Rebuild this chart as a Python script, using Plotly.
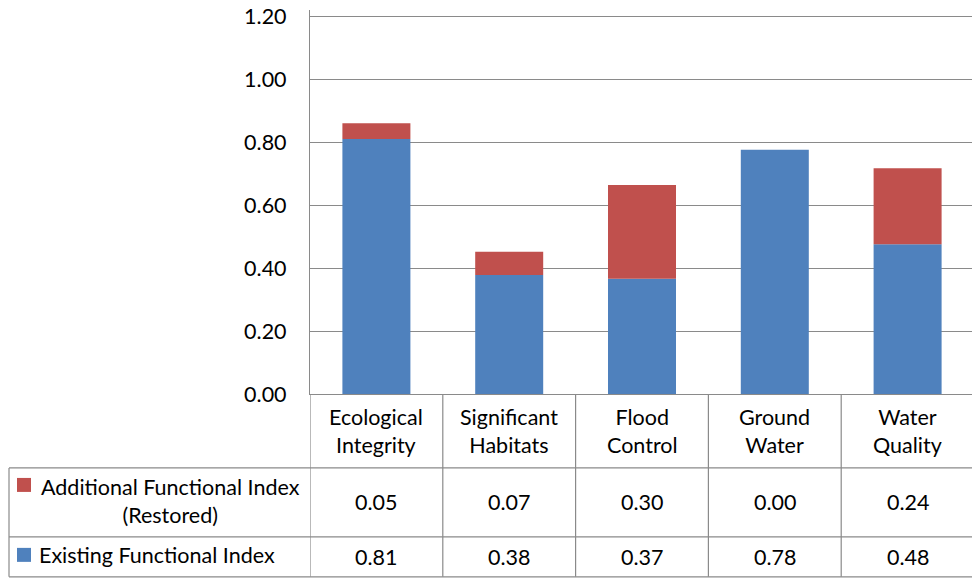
import plotly.graph_objects as go

categories = ["Ecological<br>Integrity", "Significant<br>Habitats", "Flood<br>Control", "Ground<br>Water", "Water<br>Quality"]
existing = [0.81, 0.378, 0.366, 0.776, 0.476]
additional = [0.05, 0.074, 0.298, 0.0, 0.241]
series_names = ["Additional Functional Index<br>(Restored)", "Existing Functional Index"]
y_ticks = [0.0, 0.2, 0.4, 0.6, 0.8, 1.0, 1.2]
y_tick_labels = ["0.00", "0.20", "0.40", "0.60", "0.80", "1.00", "1.20"]
blue = "#4F81BD"
red = "#C0504D"
grid = "#8a8a8a"
FONT = "Lato"
FS = 21.5

# page body has an 8px margin; work in reference pixel coords and subtract it
OFF = 8
W, H = 980 - OFF, 586 - OFF
Y_TOP = 1.22
PX_PER_UNIT = (394 - 16) / 1.2
PLOT_L, PLOT_R, PLOT_B = 310, 974, 394  # reference px
PLOT_T = PLOT_B - Y_TOP * PX_PER_UNIT
L = PLOT_L - OFF
R = W - (PLOT_R - OFF)
T = PLOT_T - OFF
B = H - (PLOT_B - OFF)
PH = PLOT_B - PLOT_T
PW = PLOT_R - PLOT_L


def py(ypx):
    return (PLOT_B - ypx) / PH


def px(xpx):
    return (xpx - PLOT_L) / PW


xs = list(range(len(categories)))
fig = go.Figure()
fig.add_trace(go.Bar(x=xs, y=existing, marker=dict(color=blue, line=dict(width=0)), name="Existing"))
fig.add_trace(go.Bar(x=xs, y=additional, base=existing, marker=dict(color=red, line=dict(width=0)), name="Additional"))

shapes = []
annotations = []
y_tab_top = 468
y_row_sep = 537
y_bottom = 577
x_left = 9

for i in range(len(categories) + 1):
    shapes.append(dict(type="line", xref="x", yref="paper", x0=i - 0.5, x1=i - 0.5,
                       y0=py(PLOT_B), y1=py(y_bottom), line=dict(color=grid, width=1.2)))
shapes.append(dict(type="line", xref="paper", yref="paper", x0=px(x_left), x1=px(x_left),
                   y0=py(y_tab_top), y1=py(y_bottom), line=dict(color=grid, width=1.2)))
for yy in (y_tab_top, y_row_sep, y_bottom):
    shapes.append(dict(type="line", xref="paper", yref="paper", x0=px(x_left), x1=1,
                       y0=py(yy), y1=py(yy), line=dict(color=grid, width=1.2)))

for i, c in enumerate(categories):
    annotations.append(dict(x=i, y=py(431), xref="x", yref="paper", text=c, showarrow=False,
                            font=dict(family=FONT, size=FS, color="#000"), align="center",
                            xanchor="center", yanchor="middle"))
    annotations.append(dict(x=i, y=py(502), xref="x", yref="paper", text=f"{additional[i]:.2f}",
                            showarrow=False, font=dict(family=FONT, size=FS, color="#000"),
                            xanchor="center", yanchor="middle"))
    annotations.append(dict(x=i, y=py(557), xref="x", yref="paper", text=f"{existing[i]:.2f}",
                            showarrow=False, font=dict(family=FONT, size=FS, color="#000"),
                            xanchor="center", yanchor="middle"))

for (ytop, col) in ((478, red), (548, blue)):
    shapes.append(dict(type="rect", xref="paper", yref="paper", x0=px(17), x1=px(31),
                       y0=py(ytop), y1=py(ytop + 14), fillcolor=col, line=dict(width=0)))
annotations.append(dict(x=px(170), y=py(501), xref="paper", yref="paper", text=series_names[0],
                        showarrow=False, font=dict(family=FONT, size=FS, color="#000"), align="center",
                        xanchor="center", yanchor="middle"))
annotations.append(dict(x=px(37), y=py(555), xref="paper", yref="paper", text=series_names[1],
                        showarrow=False, font=dict(family=FONT, size=FS, color="#000"), align="left",
                        xanchor="left", yanchor="middle"))

fig.update_layout(
    width=W, height=H,
    margin=dict(l=L, r=R, t=T, b=B, pad=0, autoexpand=False),
    paper_bgcolor="white", plot_bgcolor="white",
    barmode="overlay", bargap=0.488,
    showlegend=False,
    shapes=shapes, annotations=annotations,
    font=dict(family=FONT, size=FS, color="#000"),
)
fig.update_xaxes(range=[-0.5, len(categories) - 0.5], showticklabels=False, ticks="",
                 showgrid=False, zeroline=False, showline=True, linecolor=grid, linewidth=1.2,
                 automargin=False)
fig.update_yaxes(range=[0, Y_TOP], tickmode="array", tickvals=y_ticks, ticktext=y_tick_labels,
                 showgrid=True, gridcolor=grid, ticklabeloverflow="allow", automargin=False,
                 gridwidth=1.2, zeroline=False, showline=True, linecolor=grid, linewidth=1.2,
                 ticks="", ticklabelstandoff=18, tickfont=dict(family=FONT, size=FS, color="#000"))

fig.write_html("out.html")
